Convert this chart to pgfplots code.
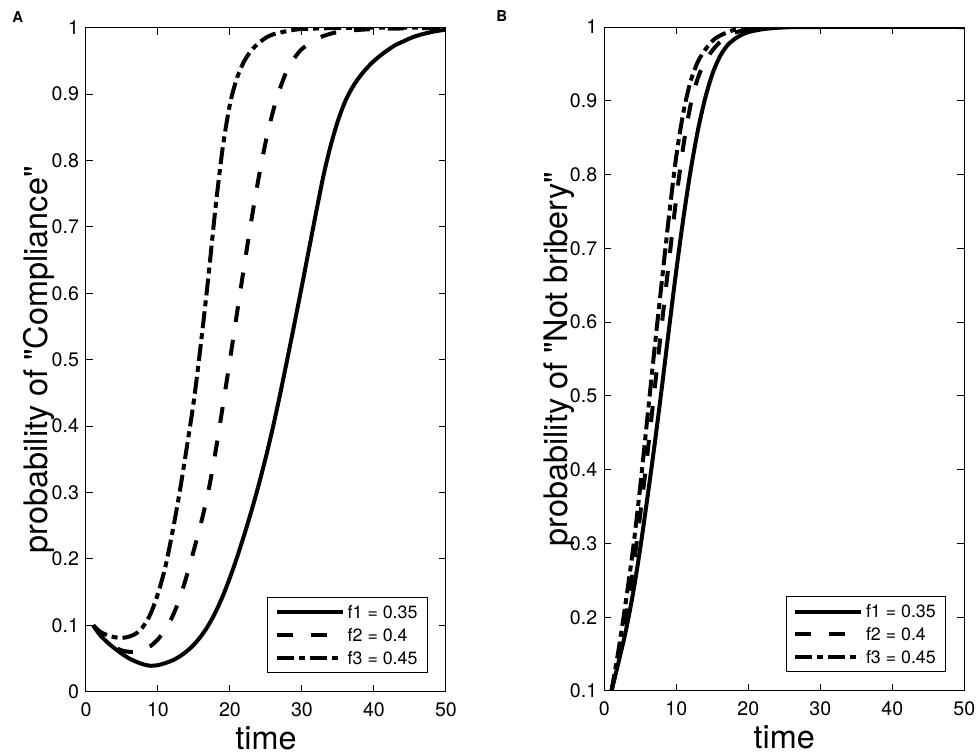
\documentclass[border=0pt]{standalone}
\usepackage{fontspec}
\setmainfont{TeX Gyre Heros}[Ligatures=TeXOff]
\usepackage{pgfplots}
\pgfplotsset{compat=1.18}
\pgfplotsset{
 mystyle/.style={
  scale only axis, width=180pt, height=332pt,
  xmin=0, xmax=50, xtick={0,10,20,30,40,50},
  tick align=inside, tick pos=both, major tick length=3.5pt,
  axis line style={line width=0.5pt},
  every tick/.style={black, line width=0.5pt},
  /pgf/number format/assume math mode=true,
  tick label style={font=\fontsize{9.8}{11}\selectfont},
  yticklabel style={/pgf/number format/fixed, /pgf/number format/precision=1},
  xticklabel style={yshift=-1.8pt},
  xlabel={time},
  label style={font=\fontsize{16.2}{19}\selectfont},
  xlabel style={at={(axis description cs:0.5,-0.0873)}, anchor=base},
  ylabel style={at={(axis description cs:-0.1056,0.5)}, anchor=base},
  legend style={at={(axis description cs:0.95,0.0282)}, anchor=south east,
    draw=black, line width=0.5pt, inner xsep=3.5pt, inner ysep=1.6pt,
    row sep=0pt, font=\fontsize{8.9}{10}\selectfont,
    nodes={inner xsep=1.5pt, inner ysep=2.5pt, text height=6.4pt, text depth=0pt},
    /tikz/every even column/.style={column sep=0pt}},
  legend cell align=left,
  legend image code/.code={\draw[#1] (0pt,0pt) -- (33pt,0pt);},
 },
 c1/.style={black, line width=2pt, smooth},
 c2/.style={black, line width=2pt, smooth, dash pattern=on 8pt off 9pt},
 c3/.style={black, line width=2pt, smooth, dash pattern=on 8.5pt off 2.5pt on 3pt off 2.5pt},
}
\pgfplotstableread{
t y
1 0.100
2 0.085
3 0.074
4 0.065
5 0.057
6 0.050
7 0.045
8 0.041
9 0.039
10 0.040
11 0.043
12 0.047
13 0.053
14 0.061
15 0.071
16 0.084
17 0.100
18 0.120
19 0.144
20 0.172
21 0.203
22 0.237
23 0.273
24 0.312
25 0.354
26 0.400
27 0.450
28 0.503
29 0.557
30 0.612
31 0.668
32 0.724
33 0.778
34 0.823
35 0.860
36 0.889
37 0.910
38 0.926
39 0.939
40 0.950
41 0.959
42 0.967
43 0.974
44 0.979
45 0.984
46 0.988
47 0.991
48 0.9935
49 0.9955
50 0.997
}\Aone
\pgfplotstableread{
t y
1 0.100
2 0.085
3 0.075
4 0.067
5 0.062
6 0.060
7 0.060
8 0.063
9 0.069
10 0.079
11 0.093
12 0.113
13 0.140
14 0.175
15 0.214
16 0.255
17 0.302
18 0.362
19 0.430
20 0.500
21 0.572
22 0.643
23 0.712
24 0.775
25 0.830
26 0.875
27 0.910
28 0.938
29 0.955
30 0.968
32 0.983
34 0.991
36 0.995
40 0.998
45 0.999
50 1.000
}\Atwo
\pgfplotstableread{
t y
1 0.100
2 0.090
3 0.085
4 0.082
5 0.081
6 0.083
7 0.088
8 0.099
9 0.118
10 0.148
11 0.187
12 0.240
13 0.300
14 0.368
15 0.440
16 0.528
17 0.625
18 0.730
19 0.820
20 0.885
21 0.925
22 0.950
23 0.966
24 0.977
25 0.985
26 0.990
28 0.995
30 0.998
35 0.9995
40 1.000
50 1.000
}\Athree
\pgfplotstableread{
t y
1 0.100
2 0.140
3 0.182
4 0.233
5 0.294
6 0.363
7 0.435
8 0.512
9 0.592
10 0.670
11 0.742
12 0.806
13 0.860
14 0.903
15 0.936
16 0.959
17 0.974
18 0.983
19 0.989
20 0.993
22 0.997
25 0.9995
30 1.000
50 1.000
}\Bone
\pgfplotstableread{
t y
1 0.100
2 0.148
3 0.200
4 0.265
5 0.340
6 0.422
7 0.510
8 0.598
9 0.684
10 0.768
11 0.840
12 0.895
13 0.931
14 0.953
15 0.968
16 0.979
17 0.987
18 0.992
20 0.997
22 0.999
25 1.000
50 1.000
}\Btwo
\pgfplotstableread{
t y
1 0.100
2 0.157
3 0.222
4 0.293
5 0.378
6 0.472
7 0.566
8 0.656
9 0.745
10 0.825
11 0.885
12 0.927
13 0.953
14 0.969
15 0.981
16 0.988
18 0.996
20 0.999
25 1.000
50 1.000
}\Bthree
\begin{document}
\begin{tikzpicture}
\useasboundingbox (0,0) rectangle (488pt,377pt);
\node[anchor=base west, inner sep=0pt, font=\fontsize{7.5}{8}\selectfont\bfseries] at (6pt,365.8pt) {A};
\node[anchor=base west, inner sep=0pt, font=\fontsize{7.5}{8}\selectfont\bfseries] at (248pt,366.2pt) {B};
\begin{axis}[mystyle, at={(43pt,31.15pt)}, anchor=south west,
  ymin=0, ymax=1, ytick={0,0.1,0.2,0.3,0.4,0.5,0.6,0.7,0.8,0.9,1},
  ylabel={probability of "Compliance"}]
\addplot[c1] table {\Aone};
\addplot[c2] table {\Atwo};
\addplot[c3] table {\Athree};
\legend{f1 = 0.35, f2 = 0.4, f3 = 0.45}
\end{axis}
\begin{axis}[mystyle, at={(302.15pt,31.5pt)}, anchor=south west,
  ymin=0.1, ymax=1, ytick={0.1,0.2,0.3,0.4,0.5,0.6,0.7,0.8,0.9,1},
  ylabel={probability of "Not bribery"},
  ylabel style={at={(axis description cs:-0.103,0.5)}}]
\addplot[c1] table {\Bone};
\addplot[c2] table {\Btwo};
\addplot[c3] table {\Bthree};
\legend{f1 = 0.35, f2 = 0.4, f3 = 0.45}
\end{axis}
\end{tikzpicture}
\end{document}
